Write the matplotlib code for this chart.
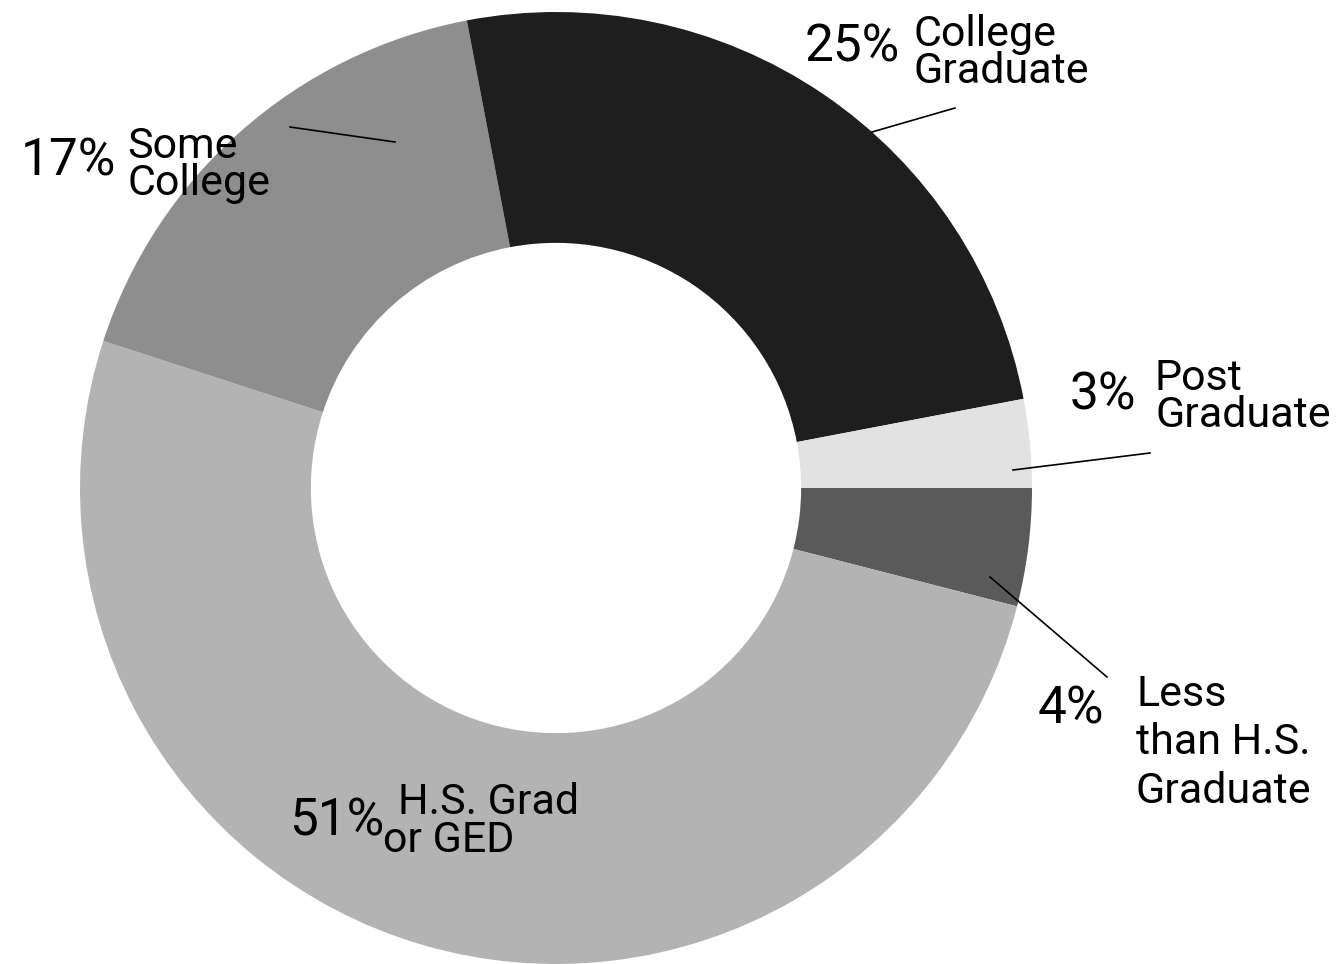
import matplotlib.pyplot as plt

plt.rcParams['font.family'] = ['Roboto', 'DejaVu Sans']

# slices, clockwise from 3 o'clock
labels = ["Less\nthan H.S.\nGraduate", "H.S. Grad\nor GED", "Some\nCollege",
          "College\nGraduate", "Post\nGraduate"]
values = [4, 51, 17, 25, 3]
colors = ["#5a5a5a", "#b3b3b3", "#8e8e8e", "#1e1e1e", "#e2e2e2"]

W, H = 1338, 964


def py(y):
    # pixel row (top origin) -> data y
    return H - y


fig = plt.figure(figsize=(13.38, 9.64), dpi=100)
ax = fig.add_axes([0, 0, 1, 1])

ax.pie(values, colors=colors, startangle=0, counterclock=False,
       center=(556, py(488)), radius=476,
       wedgeprops=dict(width=476 * 0.485, linewidth=0))

# pie resets the limits, so set them afterwards
ax.set_xlim(0, W)
ax.set_ylim(0, H)
ax.set_aspect('equal')
ax.axis('off')

# leader lines
lines = [
    [(290, 127), (395, 142)],
    [(872, 132), (955, 108)],
    [(1013, 470), (1150, 453)],
    [(990, 577), (1107, 677)],
]
for (x0, y0), (x1, y1) in lines:
    ax.plot([x0, x1], [py(y0), py(y1)], color="black", lw=1.2)

pct_size = 37
lab_size = 31

# Some College
ax.text(21, py(162), "17%", fontsize=pct_size, va='center', ha='left')
ax.text(127, py(165), labels[2], fontsize=lab_size, va='center', ha='left',
        linespacing=0.88)

# College Graduate
ax.text(805, py(47), "25%", fontsize=pct_size, va='center', ha='left')
ax.text(913, py(53), labels[3], fontsize=lab_size, va='center', ha='left',
        linespacing=0.88)

# Post Graduate
ax.text(1070, py(395), "3%", fontsize=pct_size, va='center', ha='left')
ax.text(1155, py(397), labels[4], fontsize=lab_size, va='center', ha='left',
        linespacing=0.88)

# Less than H.S.
ax.text(1038, py(710), "4%", fontsize=pct_size, va='center', ha='left')
ax.text(1136, py(743), labels[0], fontsize=lab_size, va='center', ha='left',
        linespacing=1.22)

# H.S. Grad
ax.text(289, py(822), "51%", fontsize=pct_size, va='center', ha='left')
ax.text(398, py(803), "H.S. Grad", fontsize=lab_size, va='center', ha='left')
ax.text(383, py(841), "or GED", fontsize=lab_size, va='center', ha='left')

fig.savefig("out.png", dpi=100, facecolor="white")
